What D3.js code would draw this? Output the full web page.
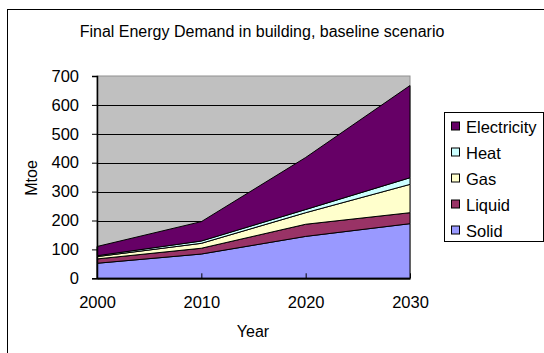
<!DOCTYPE html>
<html><head><meta charset="utf-8">
<script src="https://cdn.jsdelivr.net/npm/d3@7"></script>
<style>body{margin:0;background:#fff}svg{display:block;font-family:"Liberation Sans",Arial,sans-serif}</style>
</head><body><svg id="c" width="544" height="353"></svg>
<script>
const years = [2000, 2010, 2020, 2030];
const seriesNames = ["Solid", "Liquid", "Gas", "Heat", "Electricity"];
const solid = [52, 84, 145, 189];
const liquid = [15, 20, 42, 38];
const gas = [8, 17, 40, 98];
const heat = [3, 8, 11, 23];
const electricity = [32, 67, 180, 319];
const colors = ["#9999FF", "#993366", "#FFFFCC", "#CCFFFF", "#660066"];
const yTicks = [0, 100, 200, 300, 400, 500, 600, 700];

const svg = d3.select("#c");
const m = {l: 97, r: 410, t: 76, b: 278.3};
const x = d3.scaleLinear().domain([2000, 2030]).range([m.l, m.r]);
const y = d3.scaleLinear().domain([0, 700]).range([m.b, m.t]);

const rows = years.map((yr, i) => ({year: yr, Solid: solid[i], Liquid: liquid[i], Gas: gas[i], Heat: heat[i], Electricity: electricity[i]}));
const stacked = d3.stack().keys(seriesNames)(rows);

// outer frame
svg.append("rect").attr("x", 7.5).attr("y", 9.5).attr("width", 560).attr("height", 360)
  .attr("fill", "none").attr("stroke", "#000").attr("stroke-width", 1);

// plot bg
svg.append("rect").attr("x", m.l).attr("y", m.t).attr("width", m.r - m.l).attr("height", m.b - m.t)
  .attr("fill", "#C0C0C0").attr("stroke", "#909090").attr("stroke-width", 1);

// gridlines
svg.append("g").selectAll("line").data(yTicks.filter(d => d > 0 && d < 700)).join("line")
  .attr("x1", m.l).attr("x2", m.r).attr("y1", d => Math.round(y(d)) + 0.5).attr("y2", d => Math.round(y(d)) + 0.5)
  .attr("stroke", "#000").attr("stroke-width", 1);

// areas
const area = d3.area().x(d => x(d.data.year)).y0(d => y(d[0])).y1(d => y(d[1]));
svg.append("g").selectAll("path").data(stacked).join("path")
  .attr("d", area).attr("fill", (d, i) => colors[i]).attr("stroke", "#000").attr("stroke-width", 1).attr("stroke-linejoin", "round");

// axes
const yAxis = d3.axisLeft(y).tickValues(yTicks).tickSize(5).tickPadding(13);
const gy = svg.append("g").attr("transform", `translate(${m.l},0)`).call(yAxis);
gy.select(".domain").attr("stroke-width", 1.5);
gy.selectAll("text").attr("font-size", 16.5).attr("font-family", "Liberation Sans, Arial, sans-serif").attr("fill", "#000");

const xAxis = d3.axisBottom(x).tickValues(years).tickFormat(d3.format("d")).tickSizeInner(-5).tickSizeOuter(0).tickPadding(18);
const gx = svg.append("g").attr("transform", `translate(0,${m.b})`).call(xAxis);
gx.select(".domain").attr("stroke-width", 2);
gx.selectAll("text").attr("font-size", 16.5).attr("font-family", "Liberation Sans, Arial, sans-serif").attr("fill", "#000");

// titles
svg.append("text").attr("x", 262).attr("y", 37).attr("text-anchor", "middle").attr("font-size", 16).text("Final Energy Demand in building, baseline scenario");
svg.append("text").attr("x", 253).attr("y", 337).attr("text-anchor", "middle").attr("font-size", 16).text("Year");
svg.append("text").attr("transform", "translate(37,178) rotate(-90)").attr("text-anchor", "middle").attr("font-size", 16).text("Mtoe");

// legend
const lg = svg.append("g");
lg.append("rect").attr("x", 444.5).attr("y", 112.5).attr("width", 99).attr("height", 129).attr("fill", "#fff").attr("stroke", "#000");
const legendOrder = seriesNames.slice().reverse();
const li = lg.selectAll("g.item").data(legendOrder).join("g").attr("class", "item")
  .attr("transform", (d, i) => `translate(0,${126.5 + i * 26})`);
li.append("rect").attr("x", 451.5).attr("y", -4.5).attr("width", 8).attr("height", 8)
  .attr("fill", d => colors[seriesNames.indexOf(d)]).attr("stroke", "#000");
li.append("text").attr("x", 466).attr("y", 6).attr("font-size", 16.5).text(d => d);
</script></body></html>
